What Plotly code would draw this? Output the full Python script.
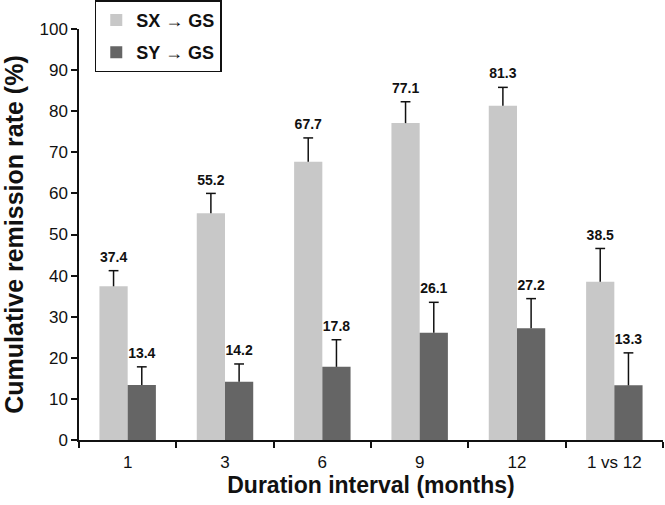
import plotly.graph_objects as go

categories = ["1", "3", "6", "9", "12", "1 vs 12"]
sx_values = [37.4, 55.2, 67.7, 77.1, 81.3, 38.5]
sy_values = [13.4, 14.2, 17.8, 26.1, 27.2, 13.3]
sx_err = [3.8, 4.8, 5.8, 5.2, 4.5, 8.1]
sy_err = [4.4, 4.3, 6.6, 7.4, 7.2, 7.9]
y_ticks = list(range(0, 101, 10))

FONT = "Liberation Sans, Arial, sans-serif"
BAR_W = 0.29
idx = list(range(len(categories)))

def f(size, bold=False):
    return dict(family=FONT, size=size, color="#111111", weight=700 if bold else 400)

fig = go.Figure()
series = [
    ("SX \u2192 GS", sx_values, sx_err, "#c8c8c8", -BAR_W, "a"),
    ("SY \u2192 GS", sy_values, sy_err, "#656565", 0.0, "b"),
]
for name, vals, errs, color, off, grp in series:
    fig.add_trace(go.Bar(
        name=name, x=idx, y=vals, width=BAR_W, offset=off, legendgroup=grp,
        marker=dict(color=color, line=dict(width=0)),
        error_y=dict(type="data", symmetric=False, array=errs, arrayminus=[0]*len(errs),
                     color="#111111", thickness=1.5, width=0),
    ))
for name, vals, errs, color, off, grp in series:
    cx = [i + off + BAR_W / 2 for i in idx]
    tops = [v + e for v, e in zip(vals, errs)]
    fig.add_trace(go.Scatter(
        x=cx, y=tops, mode="markers+text", showlegend=False, hoverinfo="skip",
        marker=dict(symbol="line-ew-open", size=7, color="#111111",
                    line=dict(width=1.5, color="#111111")),
        text=[str(v) for v in vals], textposition="top center",
        textfont=f(14, True),
    ))

fig.update_layout(
    width=665, height=505,
    margin=dict(l=79, r=2, t=29, b=65, autoexpand=False),
    paper_bgcolor="white", plot_bgcolor="white",
    barmode="overlay",
    font=f(17),
    legend=dict(
        x=0.027, y=1.07, xanchor="left", yanchor="top",
        bordercolor="#111111", borderwidth=1.5, bgcolor="white",
        font=f(18, True),
        tracegroupgap=6,
    ),
    xaxis=dict(
        range=[-0.5, 5.5], automargin=False, showgrid=False, zeroline=False,
        tickvals=idx, ticktext=categories, ticks="", ticklabelstandoff=6,
        minor=dict(tick0=0.5, dtick=1, ticks="outside", ticklen=6, tickwidth=1.5,
                   tickcolor="#111111", showgrid=False),
        showline=True, linecolor="#111111", linewidth=1.5,
        tickfont=f(17),
        title=dict(text="Duration interval (months)", font=f(23, True), standoff=4),
    ),
    yaxis=dict(
        range=[0, 100], tickvals=y_ticks, showgrid=False, zeroline=False, automargin=False,
        showline=True, linecolor="#111111", linewidth=1.5,
        ticks="outside", ticklen=6, tickwidth=1.5, tickcolor="#111111",
        tickfont=f(17),
        title=dict(text="Cumulative remission rate (%)", font=f(25, True), standoff=12),
    ),
)

fig.write_html("out.html", config={"displayModeBar": False},
               post_script="document.body.style.margin='0';")
